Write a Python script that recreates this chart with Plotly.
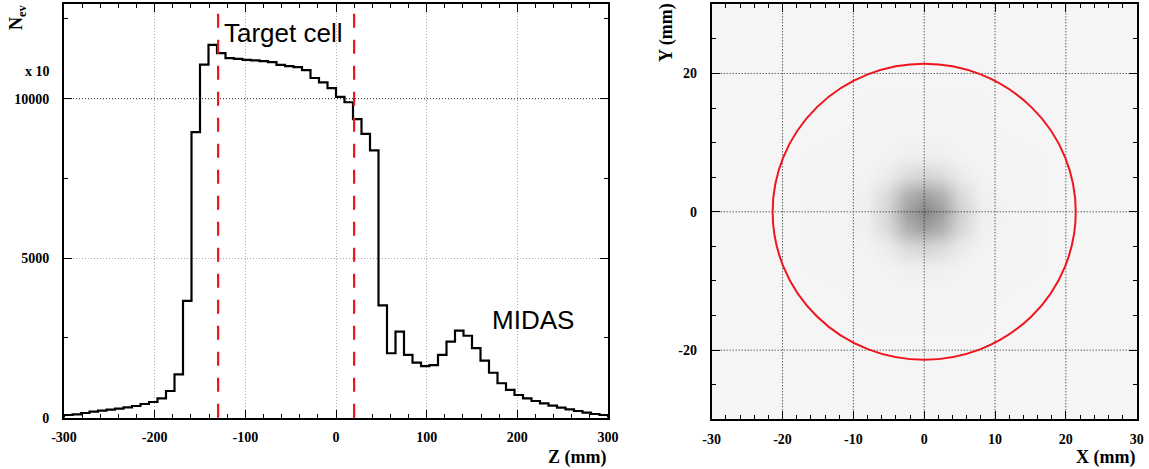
import numpy as np
import plotly.graph_objects as go

# ---------------- Z distribution of reconstructed vertices ----------------
Z_MIN, Z_MAX, N_BINS = -300.0, 300.0, 64
z_counts = [
    85, 106, 147, 188, 220, 251, 282, 325, 367, 430,
    492, 608, 837, 1361, 3665, 8950, 11070, 11690, 11430, 11270,
    11250, 11220, 11200, 11180, 11150, 11060, 11020, 10990, 10900, 10650,
    10510, 10330, 10060, 9890, 9360, 8900, 8380, 3520, 2020, 2700,
    1967, 1725, 1620, 1650, 1967, 2384, 2730, 2570, 2180, 1790,
    1410, 1080, 870, 712, 608, 524, 451, 376, 314, 262,
    210, 157, 116, 85,
]
target_cell_edges = [-130, 20]          # mm
z_ticks = [-300, -200, -100, 0, 100, 200, 300]
n_ticks = [0, 5000, 10000]
n_top = 12970

# ---------------- transverse (X, Y) profile ----------------
xy_nodes = [-30, -12, -8, -5, -2.5, 0, 2.5, 5, 8, 12, 30]   # mm
# relative hit density at the grid nodes (rows: y, columns: x)
xy_density = [
    [1.00, 1.00, 1.00, 1.00, 1.00, 1.00, 1.00, 1.00, 1.00, 1.00, 1.00],
    [1.00, 1.03, 1.05, 1.05, 1.05, 1.05, 1.05, 1.05, 1.05, 1.03, 1.00],
    [1.00, 1.05, 1.05, 1.20, 1.40, 1.50, 1.40, 1.20, 1.05, 1.05, 1.00],
    [1.00, 1.05, 1.20, 1.80, 3.00, 3.50, 3.00, 1.80, 1.20, 1.05, 1.00],
    [1.00, 1.05, 1.40, 3.00, 5.80, 7.00, 5.80, 3.20, 1.40, 1.05, 1.00],
    [1.00, 1.05, 1.50, 3.50, 7.00, 9.00, 7.20, 3.80, 1.60, 1.05, 1.00],
    [1.00, 1.05, 1.40, 3.00, 5.80, 7.00, 5.80, 3.00, 1.40, 1.05, 1.00],
    [1.00, 1.05, 1.20, 1.80, 3.00, 3.50, 3.00, 1.80, 1.20, 1.05, 1.00],
    [1.00, 1.05, 1.05, 1.20, 1.40, 1.50, 1.40, 1.20, 1.05, 1.05, 1.00],
    [1.00, 1.03, 1.05, 1.05, 1.05, 1.05, 1.05, 1.05, 1.05, 1.03, 1.00],
    [1.00, 1.00, 1.00, 1.00, 1.00, 1.00, 1.00, 1.00, 1.00, 1.00, 1.00],
]
cell_radius = 21.4                      # mm
xy_xticks = [-30, -20, -10, 0, 10, 20, 30]
xy_yticks = [-20, 0, 20]
x_grid = [-20, -10, 0, 10, 20]
y_grid = [-20, 0, 20]

W, H = 1149, 469
SERIF = "Liberation Serif"
SANS = "Liberation Sans"


def px(x):
    return x / W


def py(y):
    return 1 - y / H


def labels(vals):
    return [str(v) for v in vals]


fig = go.Figure()

# histogram outline
edges = np.linspace(Z_MIN, Z_MAX, N_BINS + 1)
step_x = [edges[0]] + list(edges) + [edges[-1]]
step_y = [0] + list(z_counts) + [z_counts[-1], 0]
fig.add_trace(go.Scatter(
    x=step_x, y=step_y, mode="lines", line_shape="hv",
    line=dict(color="black", width=2.2), xaxis="x", yaxis="y",
    hoverinfo="skip", showlegend=False,
))

# transverse density map
fig.add_trace(go.Heatmap(
    x=xy_nodes, y=xy_nodes, z=xy_density, zsmooth="best",
    zmin=1, zmax=9, showscale=False,
    colorscale=[[0, "rgb(245,245,245)"], [0.5, "rgb(190,190,190)"], [1, "rgb(135,135,135)"]],
    xaxis="x2", yaxis="y2", hoverinfo="skip",
))

tickfont = dict(family=SERIF, size=14, color="black", weight="bold")
frame = dict(showline=True, linecolor="black", linewidth=2, mirror="allticks",
             ticks="inside", ticklen=8, tickcolor="black", tickwidth=1,
             tickfont=tickfont, zeroline=False, automargin=False)

fig.update_layout(
    width=W, height=H, margin=dict(l=0, r=0, t=0, b=0, autoexpand=False),
    paper_bgcolor="white", plot_bgcolor="white", showlegend=False,
    xaxis=dict(domain=[px(64), px(608)], range=[Z_MIN, Z_MAX],
               tickvals=z_ticks, ticktext=labels(z_ticks), ticklabelstandoff=5,
               showgrid=True, gridcolor="rgb(170,170,170)", griddash="1px,2px", gridwidth=1,
               minor=dict(ticks="inside", ticklen=4, dtick=20, tickcolor="black", showgrid=False),
               anchor="y", **frame),
    yaxis=dict(domain=[py(417.7), py(4)], range=[0, n_top],
               tickvals=n_ticks, ticktext=labels(n_ticks), ticklabelstandoff=10,
               showgrid=True, gridcolor="rgb(170,170,170)", griddash="1px,2px", gridwidth=1,
               minor=dict(ticks="inside", ticklen=4, dtick=2500, tickcolor="black", showgrid=False),
               anchor="x", **frame),
    xaxis2=dict(domain=[px(711.7), px(1136.7)], range=[-30, 30],
                tickvals=xy_xticks, ticktext=labels(xy_xticks), ticklabelstandoff=6,
                showgrid=False,
                minor=dict(ticks="inside", ticklen=4, dtick=2, tickcolor="black", showgrid=False),
                anchor="y2", **frame),
    yaxis2=dict(domain=[py(419.3), py(4.3)], range=[-30, 30],
                tickvals=xy_yticks, ticktext=labels(xy_yticks), ticklabelstandoff=10,
                showgrid=False,
                minor=dict(ticks="inside", ticklen=4, dtick=5, tickcolor="black", showgrid=False),
                anchor="x2", **frame),
)

# darker reference line at the upper labelled count
fig.add_shape(type="line", xref="x domain", yref="y", x0=0, x1=1,
              y0=n_ticks[-1], y1=n_ticks[-1],
              line=dict(color="rgb(40,40,40)", width=1, dash="1px,2px"), layer="above")

# target-cell boundaries
for z in target_cell_edges:
    fig.add_shape(type="line", xref="x", yref="y domain", x0=z, x1=z, y0=0, y1=0.985,
                  line=dict(color="rgb(240,20,30)", width=2.2, dash="14px,12px"), layer="above")

# grid on the transverse map, drawn over the density map
for gx in x_grid:
    fig.add_shape(type="line", xref="x2", yref="y2 domain", x0=gx, x1=gx, y0=0, y1=1,
                  line=dict(color="rgb(30,30,30)", width=1, dash="1px,2px"), layer="above")
for gy in y_grid:
    fig.add_shape(type="line", xref="x2 domain", yref="y2", x0=0, x1=1, y0=gy, y1=gy,
                  line=dict(color="rgb(30,30,30)", width=1, dash="1px,2px"), layer="above")

# cell aperture
fig.add_shape(type="circle", xref="x2", yref="y2",
              x0=-cell_radius, x1=cell_radius, y0=-cell_radius, y1=cell_radius,
              line=dict(color="rgb(240,20,30)", width=2), layer="above")

title_font = dict(family=SERIF, size=18, color="black", weight="bold")
annotations = [
    dict(x=px(222), y=py(33), text="Target cell", xanchor="left", yanchor="middle",
         font=dict(family=SANS, size=26, color="black")),
    dict(x=px(490), y=py(320), text="MIDAS", xanchor="left", yanchor="middle",
         font=dict(family=SANS, size=26, color="black")),
    dict(x=px(608), y=py(457), text="Z (mm)", xanchor="right", yanchor="middle", font=title_font),
    dict(x=px(1137), y=py(457), text="X (mm)", xanchor="right", yanchor="middle", font=title_font),
    dict(x=px(666), y=py(33), text="Y (mm)", textangle=-90, xanchor="center", yanchor="middle",
         font=title_font),
    dict(x=px(17), y=py(17), text="N<sub>ev</sub>", textangle=-90, xanchor="center",
         yanchor="middle", font=title_font),
    dict(x=px(52), y=py(71), text="x 10", xanchor="right", yanchor="middle",
         font=dict(family=SERIF, size=14, color="black", weight="bold")),
]
for a in annotations:
    a.update(xref="paper", yref="paper", showarrow=False)
fig.update_layout(annotations=annotations)

fig.write_html("out.html")
